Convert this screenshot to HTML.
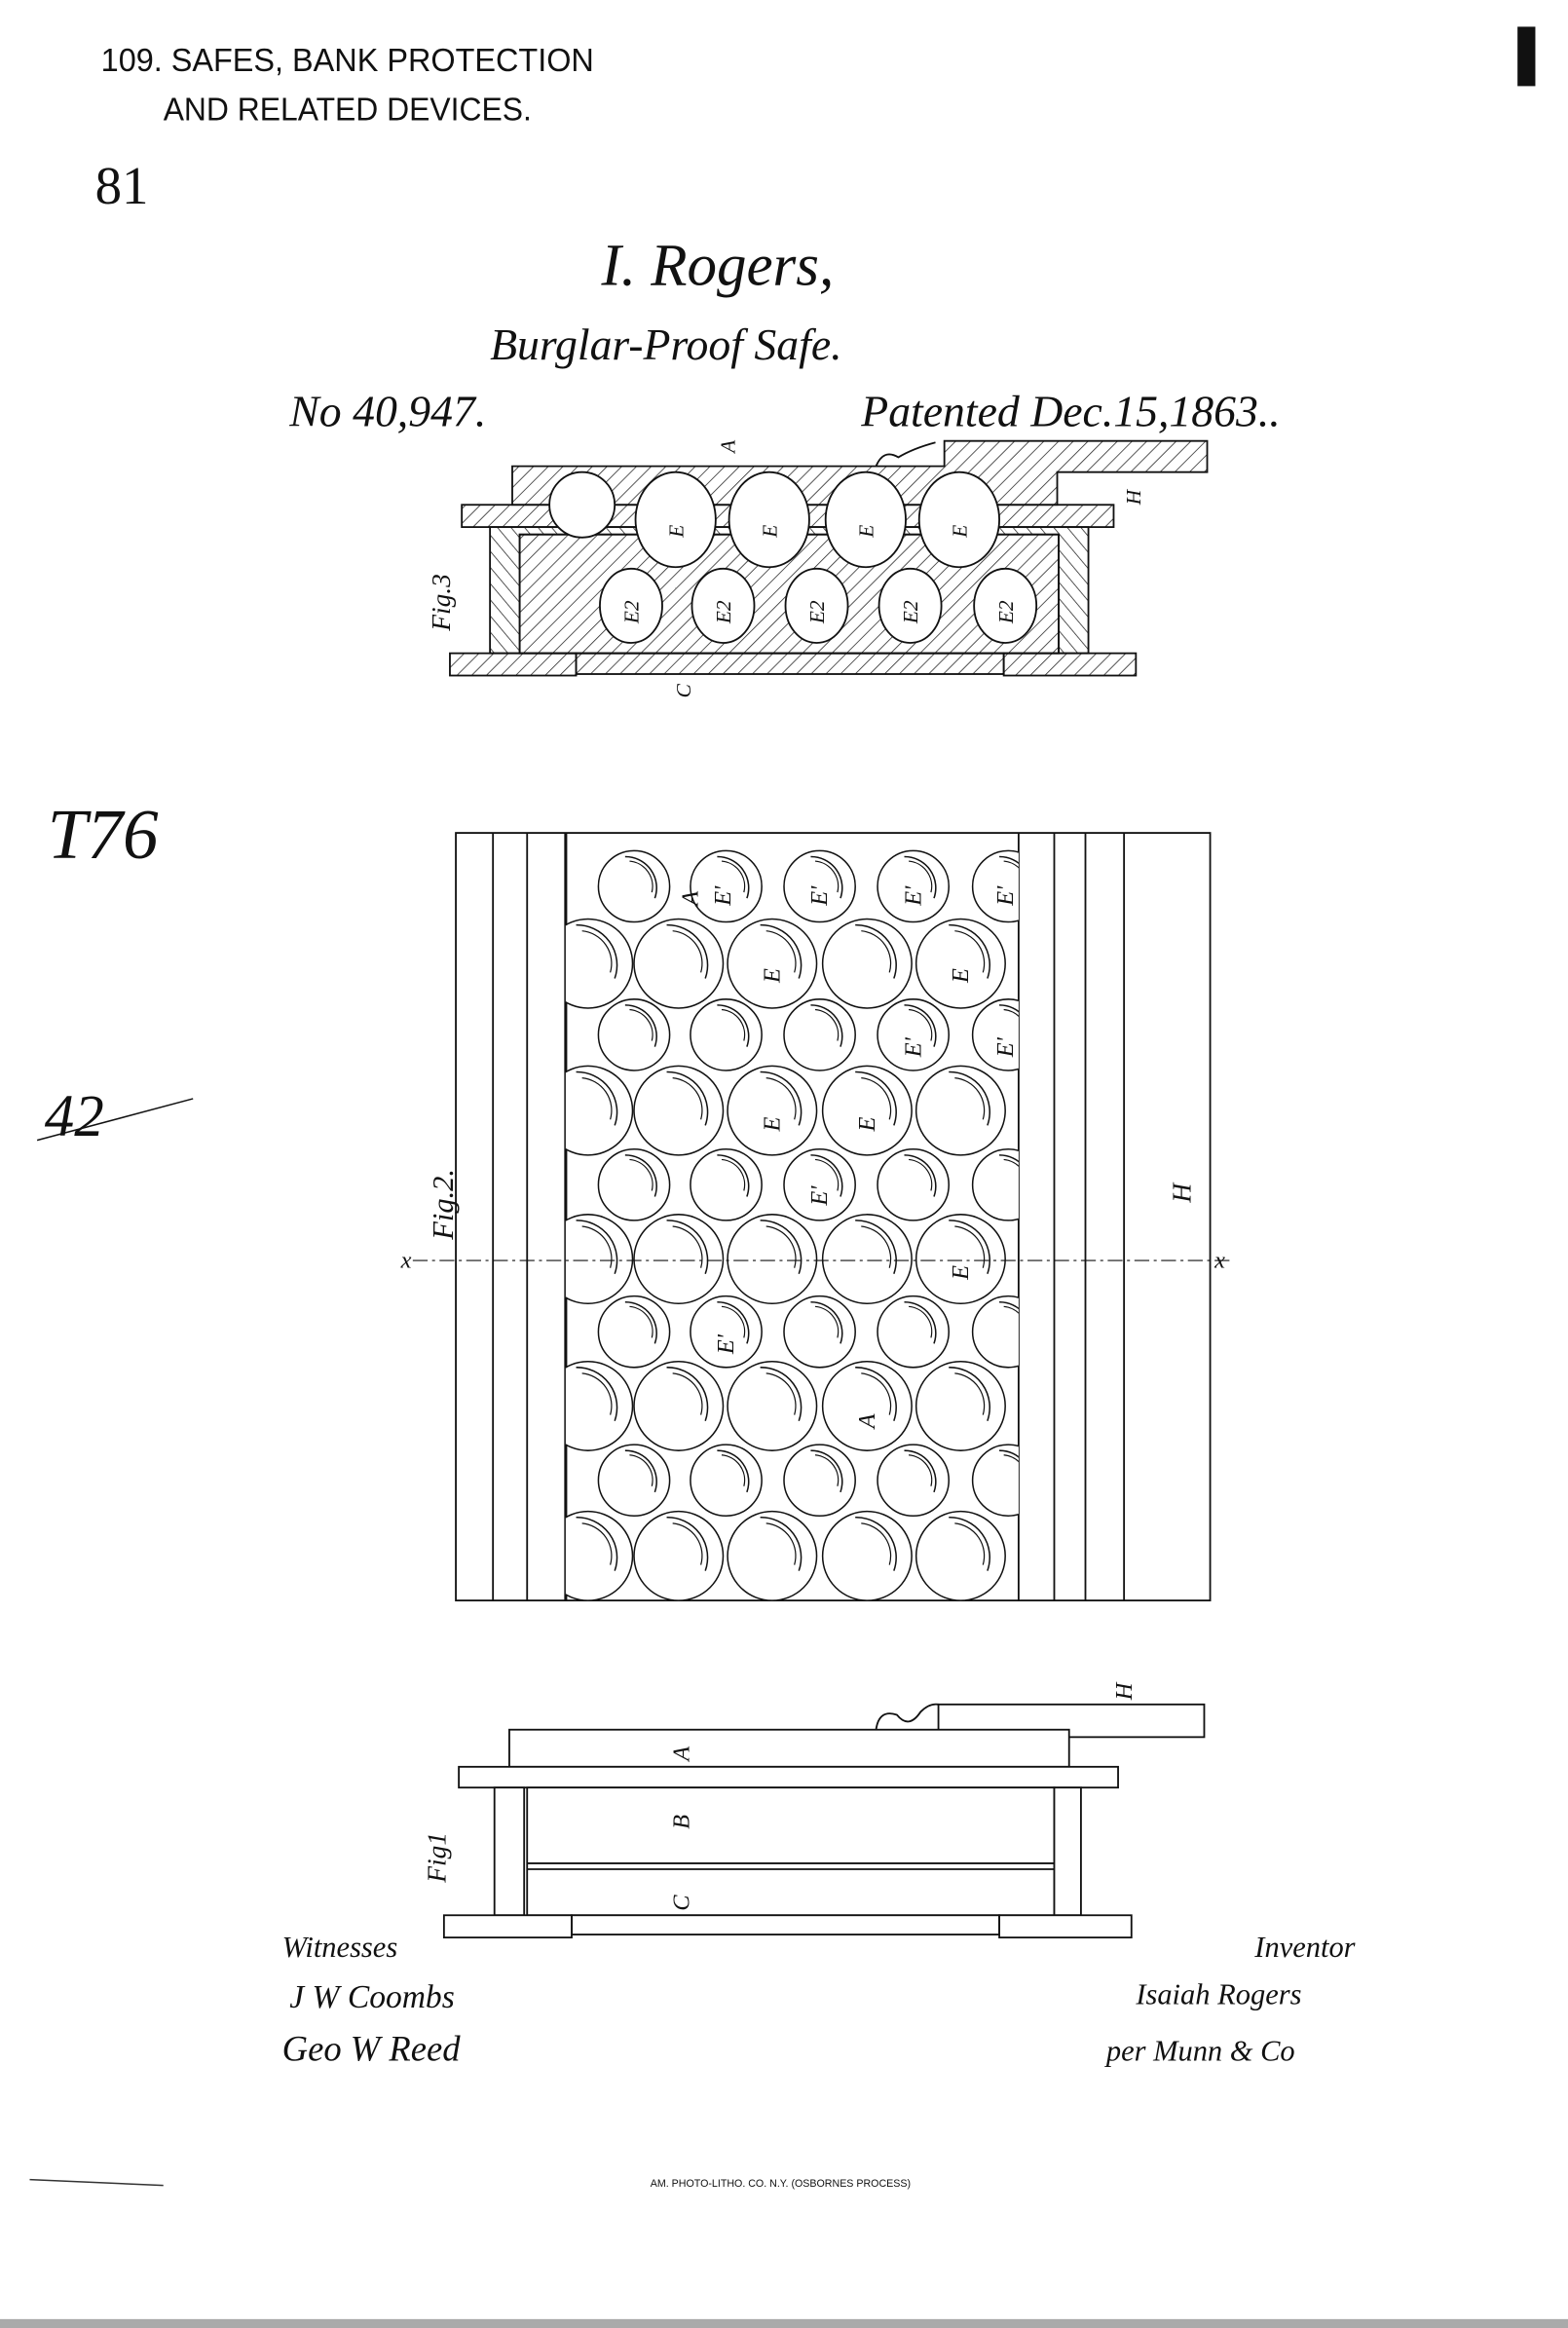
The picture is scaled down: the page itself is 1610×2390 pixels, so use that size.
<!DOCTYPE html>
<html><head><meta charset="utf-8"><style>
html,body{margin:0;padding:0;background:#fff}
svg{display:block}
text{font-family:"Liberation Serif",serif;fill:#111}
.h{font-family:"Liberation Sans",sans-serif}
</style></head><body>
<svg width="1610" height="2390" viewBox="0 0 1056 1568" preserveAspectRatio="none" xmlns="http://www.w3.org/2000/svg">
<defs>
<pattern id="hat" width="7" height="7" patternUnits="userSpaceOnUse" patternTransform="rotate(45)">
<line x1="0" y1="0" x2="0" y2="7" stroke="#222" stroke-width="1"/></pattern>
<pattern id="hat2" width="7" height="7" patternUnits="userSpaceOnUse" patternTransform="rotate(-40)">
<line x1="0" y1="0" x2="0" y2="7" stroke="#222" stroke-width="1"/></pattern>
<g id="sm"><circle r="24" fill="#fff" stroke="#111" stroke-width="1"/><path d="M-6,-20 A21 21 0 0 1 14,8" fill="none" stroke="#111" stroke-width="1"/><path d="M-3,-17 A17 17 0 0 1 12,4" fill="none" stroke="#111" stroke-width="0.8"/></g>
<g id="lg"><circle r="30" fill="#fff" stroke="#111" stroke-width="1"/><path d="M-8,-26 A27 27 0 0 1 18,10" fill="none" stroke="#111" stroke-width="1"/><path d="M-4,-22 A22 22 0 0 1 15,6" fill="none" stroke="#111" stroke-width="0.8"/></g>
<clipPath id="cp"><rect x="381" y="561" width="305" height="517"/></clipPath>
</defs>
<rect width="1056" height="1568" fill="#fff"/>
<rect x="0" y="1562" width="1056" height="6" fill="#aaa"/>
<rect x="1022" y="18" width="12" height="40" fill="#111"/>

<text class="h" x="68" y="48" font-size="22" textLength="332" lengthAdjust="spacingAndGlyphs">109. SAFES, BANK PROTECTION</text>
<text class="h" x="110" y="81" font-size="22" textLength="248" lengthAdjust="spacingAndGlyphs">AND RELATED DEVICES.</text>
<text x="64" y="137" font-size="36">81</text>
<text x="405" y="192" font-size="40" font-style="italic">I. Rogers,</text>
<text x="330" y="242" font-size="30" font-style="italic">Burglar-Proof Safe.</text>
<text x="195" y="287" font-size="30" font-style="italic">No 40,947.</text>
<text x="580" y="287" font-size="30" font-style="italic">Patented Dec.15,1863..</text>
<text x="32" y="578" font-size="48" font-style="italic">T76</text>
<text x="30" y="765" font-size="40" font-style="italic">42</text>
<line x1="25" y1="768" x2="130" y2="740" stroke="#111"/>
<text x="190" y="1318" font-size="20" font-style="italic">Witnesses</text>
<text x="845" y="1318" font-size="20" font-style="italic">Inventor</text>
<text x="195" y="1352" font-size="22" font-style="italic">J W Coombs</text>
<text x="190" y="1388" font-size="24" font-style="italic">Geo W Reed</text>
<text x="765" y="1350" font-size="20" font-style="italic">Isaiah Rogers</text>
<text x="745" y="1388" font-size="20" font-style="italic">per Munn &amp; Co</text>
<text class="h" x="438" y="1473" font-size="7">AM. PHOTO-LITHO. CO. N.Y. (OSBORNES PROCESS)</text>
<line x1="20" y1="1468" x2="110" y2="1472" stroke="#333"/>

<!-- Fig 3 -->
<g stroke="#111" stroke-width="1.2">
<path d="M345,314 L636,314 L636,297 L813,297 L813,318 L712,318 L712,340 L345,340 Z" fill="url(#hat)"/>
<rect x="311" y="340" width="439" height="15" fill="url(#hat)"/>
<rect x="330" y="355" width="403" height="85" fill="url(#hat2)"/>
<rect x="350" y="360" width="363" height="80" fill="#fff"/>
<rect x="350" y="360" width="363" height="80" fill="url(#hat)"/>
<rect x="303" y="440" width="85" height="15" fill="url(#hat)"/>
<rect x="676" y="440" width="89" height="15" fill="url(#hat)"/>
<rect x="388" y="440" width="288" height="14" fill="url(#hat)"/>
<path d="M590,314 q5,-12 15,-6 q10,-6 25,-10" fill="none"/>
<g fill="#fff">
<ellipse cx="392" cy="340" rx="22" ry="22"/>
<ellipse cx="455" cy="350" rx="27" ry="32"/><ellipse cx="518" cy="350" rx="27" ry="32"/>
<ellipse cx="583" cy="350" rx="27" ry="32"/><ellipse cx="646" cy="350" rx="27" ry="32"/>
<ellipse cx="425" cy="408" rx="21" ry="25"/><ellipse cx="487" cy="408" rx="21" ry="25"/>
<ellipse cx="550" cy="408" rx="21" ry="25"/><ellipse cx="613" cy="408" rx="21" ry="25"/>
<ellipse cx="677" cy="408" rx="21" ry="25"/>
</g></g>
<g font-size="14" font-style="italic">
<text transform="translate(303,425) rotate(-90)" font-size="18">Fig.3</text>
<text transform="translate(460,362) rotate(-90)">E</text><text transform="translate(523,362) rotate(-90)">E</text>
<text transform="translate(588,362) rotate(-90)">E</text><text transform="translate(651,362) rotate(-90)">E</text>
<text transform="translate(430,420) rotate(-90)">E2</text><text transform="translate(492,420) rotate(-90)">E2</text>
<text transform="translate(555,420) rotate(-90)">E2</text><text transform="translate(618,420) rotate(-90)">E2</text>
<text transform="translate(682,420) rotate(-90)">E2</text>
<text transform="translate(495,305) rotate(-90)">A</text><text transform="translate(768,340) rotate(-90)">H</text>
<text transform="translate(465,470) rotate(-90)">C</text>
</g>

<!-- Fig 2 -->
<g stroke="#111" stroke-width="1.2" fill="none">
<rect x="307" y="561" width="508" height="517"/>
<line x1="332" y1="561" x2="332" y2="1078"/><line x1="355" y1="561" x2="355" y2="1078"/>
<line x1="381" y1="561" x2="381" y2="1078" stroke-width="2"/>
<line x1="686" y1="561" x2="686" y2="1078"/><line x1="710" y1="561" x2="710" y2="1078"/>
<line x1="731" y1="561" x2="731" y2="1078"/><line x1="757" y1="561" x2="757" y2="1078"/>
</g>
<g clip-path="url(#cp)">
<use href="#sm" x="427" y="597"/><use href="#sm" x="489" y="597"/><use href="#sm" x="552" y="597"/><use href="#sm" x="615" y="597"/><use href="#sm" x="679" y="597"/>
<use href="#lg" x="396" y="649"/><use href="#lg" x="457" y="649"/><use href="#lg" x="520" y="649"/><use href="#lg" x="584" y="649"/><use href="#lg" x="647" y="649"/>
<use href="#sm" x="427" y="697"/><use href="#sm" x="489" y="697"/><use href="#sm" x="552" y="697"/><use href="#sm" x="615" y="697"/><use href="#sm" x="679" y="697"/>
<use href="#lg" x="396" y="748"/><use href="#lg" x="457" y="748"/><use href="#lg" x="520" y="748"/><use href="#lg" x="584" y="748"/><use href="#lg" x="647" y="748"/>
<use href="#sm" x="427" y="798"/><use href="#sm" x="489" y="798"/><use href="#sm" x="552" y="798"/><use href="#sm" x="615" y="798"/><use href="#sm" x="679" y="798"/>
<use href="#lg" x="396" y="848"/><use href="#lg" x="457" y="848"/><use href="#lg" x="520" y="848"/><use href="#lg" x="584" y="848"/><use href="#lg" x="647" y="848"/>
<use href="#sm" x="427" y="897"/><use href="#sm" x="489" y="897"/><use href="#sm" x="552" y="897"/><use href="#sm" x="615" y="897"/><use href="#sm" x="679" y="897"/>
<use href="#lg" x="396" y="947"/><use href="#lg" x="457" y="947"/><use href="#lg" x="520" y="947"/><use href="#lg" x="584" y="947"/><use href="#lg" x="647" y="947"/>
<use href="#sm" x="427" y="997"/><use href="#sm" x="489" y="997"/><use href="#sm" x="552" y="997"/><use href="#sm" x="615" y="997"/><use href="#sm" x="679" y="997"/>
<use href="#lg" x="396" y="1048"/><use href="#lg" x="457" y="1048"/><use href="#lg" x="520" y="1048"/><use href="#lg" x="584" y="1048"/><use href="#lg" x="647" y="1048"/>
</g>
<line x1="278" y1="849" x2="828" y2="849" stroke="#111" stroke-width="0.8" stroke-dasharray="10,3,2,3"/>
<g font-size="16" font-style="italic">
<text x="270" y="854">x</text><text x="818" y="854">x</text>
<text transform="translate(305,835) rotate(-90)" font-size="20">Fig.2.</text>
<text transform="translate(802,810) rotate(-90)" font-size="18">H</text>
<text transform="translate(470,610) rotate(-90)">A</text>
<text transform="translate(492,610) rotate(-90)">E'</text><text transform="translate(557,610) rotate(-90)">E'</text><text transform="translate(620,610) rotate(-90)">E'</text><text transform="translate(682,610) rotate(-90)">E'</text>
<text transform="translate(525,662) rotate(-90)">E</text><text transform="translate(652,662) rotate(-90)">E</text>
<text transform="translate(620,712) rotate(-90)">E'</text><text transform="translate(682,712) rotate(-90)">E'</text>
<text transform="translate(525,762) rotate(-90)">E</text><text transform="translate(589,762) rotate(-90)">E</text>
<text transform="translate(557,812) rotate(-90)">E'</text><text transform="translate(652,862) rotate(-90)">E</text>
<text transform="translate(494,912) rotate(-90)">E'</text><text transform="translate(589,962) rotate(-90)">A</text>
</g>

<!-- Fig 1 -->
<g stroke="#111" stroke-width="1.2" fill="#fff">
<rect x="632" y="1148" width="179" height="22"/>
<rect x="343" y="1165" width="377" height="25"/>
<rect x="309" y="1190" width="444" height="14"/>
<rect x="355" y="1204" width="355" height="86"/>
<line x1="355" y1="1255" x2="710" y2="1255"/><line x1="355" y1="1259" x2="710" y2="1259"/>
<rect x="333" y="1204" width="20" height="86"/><rect x="710" y="1204" width="18" height="86"/>
<rect x="385" y="1290" width="288" height="13"/>
<rect x="299" y="1290" width="86" height="15"/><rect x="673" y="1290" width="89" height="15"/>
<path d="M590,1165 q2,-14 14,-10 q8,10 16,-2 q6,-6 12,-5" fill="none"/>
</g>
<g font-size="16" font-style="italic">
<text transform="translate(300,1268) rotate(-90)" font-size="18">Fig1</text>
<text transform="translate(464,1186) rotate(-90)">A</text>
<text transform="translate(464,1232) rotate(-90)">B</text>
<text transform="translate(464,1287) rotate(-90)">C</text>
<text transform="translate(762,1145) rotate(-90)">H</text>
</g>
</svg>
</body></html>
